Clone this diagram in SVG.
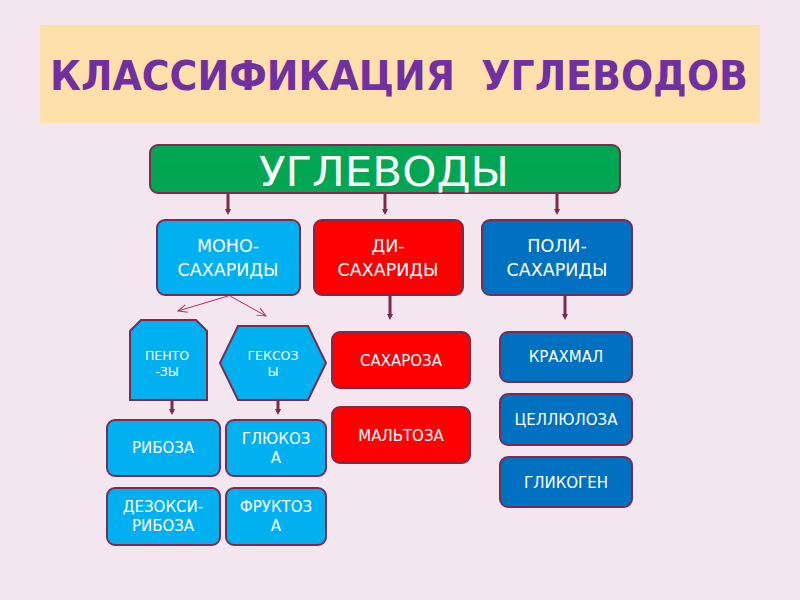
<svg xmlns="http://www.w3.org/2000/svg" width="800" height="600" viewBox="0 0 800 600">
<defs>
<style>
.bx{stroke:#7A2B50;stroke-width:2}
.cyan{fill:#00B0F0}.red{fill:#FF0000}.blue{fill:#0070C0}.green{fill:#00A651}
.t{font-family:"DejaVu Sans","Liberation Sans",sans-serif;fill:#FFFFFF;text-anchor:middle}
.m{font-size:17.5px}
.s{font-size:15px}
.xs{font-size:12.5px}
.ln{stroke:#7A2B50;stroke-width:3;fill:none}
.thin{stroke:#B0305A;stroke-width:1;fill:none}
</style>
<marker id="dot" viewBox="0 0 6 6" refX="3" refY="3" markerWidth="6" markerHeight="6" markerUnits="userSpaceOnUse" orient="auto">
<path d="M0,0 L6,3 L0,6 Z" fill="#7A2B50"/>
</marker>
<marker id="open" viewBox="0 0 10 10" refX="9" refY="5" markerWidth="10" markerHeight="10" markerUnits="userSpaceOnUse" orient="auto">
<path d="M0,1 L9,5 L0,9" fill="none" stroke="#B0305A" stroke-width="1"/>
</marker>
</defs>
<rect width="800" height="600" fill="#F4E6EF"/>
<g id="title">
<rect x="40" y="25" width="720" height="98" fill="#FFE0AB"/>
<text x="399" y="90" font-family="DejaVu Sans,Liberation Sans,sans-serif" font-weight="bold" font-size="40" fill="#7030A0" text-anchor="middle" textLength="698" lengthAdjust="spacingAndGlyphs" style="white-space:pre">КЛАССИФИКАЦИЯ  УГЛЕВОДОВ</text>
</g>
<g id="connectors">
<line class="ln" x1="228" y1="194" x2="228" y2="212" marker-end="url(#dot)"/>
<line class="ln" x1="385" y1="194" x2="385" y2="212" marker-end="url(#dot)"/>
<line class="ln" x1="557" y1="194" x2="557" y2="212" marker-end="url(#dot)"/>
<line class="thin" x1="228" y1="296" x2="178" y2="311" marker-end="url(#open)"/>
<line class="thin" x1="230" y1="296" x2="266" y2="316" marker-end="url(#open)"/>
<line class="ln" x1="172" y1="401" x2="172" y2="412" marker-end="url(#dot)"/>
<line class="ln" x1="278" y1="401" x2="278" y2="412" marker-end="url(#dot)"/>
<line class="ln" x1="390" y1="296" x2="390" y2="317" marker-end="url(#dot)"/>
<line class="ln" x1="565" y1="296" x2="565" y2="317" marker-end="url(#dot)"/>
</g>
<g id="uglevody">
<rect class="bx green" x="150" y="145" width="470" height="48" rx="8"/>
<text class="t" x="384" y="186" font-size="41" textLength="250" lengthAdjust="spacingAndGlyphs">УГЛЕВОДЫ</text>
</g>
<g id="mono">
<rect class="bx cyan" x="157" y="220" width="143" height="75" rx="8"/>
<text class="t m" x="228" y="252">МОНО-</text>
<text class="t m" x="228" y="276">САХАРИДЫ</text>
</g>
<g id="di">
<rect class="bx red" x="314" y="220" width="149" height="75" rx="8"/>
<text class="t m" x="388" y="252">ДИ-</text>
<text class="t m" x="388" y="276">САХАРИДЫ</text>
</g>
<g id="poli">
<rect class="bx blue" x="482" y="220" width="150" height="75" rx="8"/>
<text class="t m" x="557" y="252">ПОЛИ-</text>
<text class="t m" x="557" y="276">САХАРИДЫ</text>
</g>
<g id="pentozy">
<polygon class="bx cyan" points="141,320 196,320 207,331 207,400 130,400 130,331"/>
<text class="t xs" x="167" y="360">ПЕНТО</text>
<text class="t xs" x="167" y="376">-ЗЫ</text>
</g>
<g id="geksozy">
<polygon class="bx cyan" points="220,363 238,326 308,326 326,363 308,400 238,400"/>
<text class="t xs" x="273" y="360">ГЕКСОЗ</text>
<text class="t xs" x="273" y="376">Ы</text>
</g>
<g id="riboza">
<rect class="bx cyan" x="107" y="420" width="113" height="56" rx="8"/>
<text class="t s" x="163" y="453">РИБОЗА</text>
</g>
<g id="glukoza">
<rect class="bx cyan" x="226" y="420" width="100" height="56" rx="8"/>
<text class="t s" x="276" y="444">ГЛЮКОЗ</text>
<text class="t s" x="276" y="463">А</text>
</g>
<g id="dezoksiriboza">
<rect class="bx cyan" x="107" y="488" width="113" height="57" rx="8"/>
<text class="t s" x="163" y="512">ДЕЗОКСИ-</text>
<text class="t s" x="163" y="531">РИБОЗА</text>
</g>
<g id="fruktoza">
<rect class="bx cyan" x="226" y="488" width="100" height="57" rx="8"/>
<text class="t s" x="276" y="512">ФРУКТОЗ</text>
<text class="t s" x="276" y="531">А</text>
</g>
<g id="saharoza">
<rect class="bx red" x="332" y="332" width="138" height="56" rx="8"/>
<text class="t s" x="401" y="366">САХАРОЗА</text>
</g>
<g id="maltoza">
<rect class="bx red" x="332" y="407" width="138" height="56" rx="8"/>
<text class="t s" x="401" y="441">МАЛЬТОЗА</text>
</g>
<g id="krahmal">
<rect class="bx blue" x="500" y="332" width="132" height="50" rx="8"/>
<text class="t s" x="566" y="362">КРАХМАЛ</text>
</g>
<g id="cellyuloza">
<rect class="bx blue" x="500" y="394" width="132" height="51" rx="8"/>
<text class="t s" x="566" y="425">ЦЕЛЛЮЛОЗА</text>
</g>
<g id="glikogen">
<rect class="bx blue" x="500" y="457" width="132" height="50" rx="8"/>
<text class="t s" x="566" y="488">ГЛИКОГЕН</text>
</g>
</svg>
